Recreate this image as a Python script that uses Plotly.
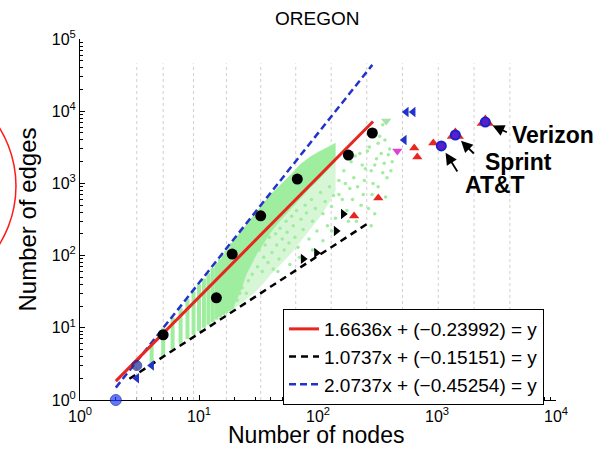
import math
import plotly.graph_objects as go

# ---------------- data ----------------
title_text = "OREGON"
x_title = "Number of nodes"
y_title = "Number of edges"

# fitted lines: log10(y) = slope*log10(x) + intercept
fit_labels = ["1.6636x + (\u22120.23992) = y",
              "1.0737x + (\u22120.15151) = y",
              "2.0737x + (\u22120.45254) = y"]
fit_slopes = [1.6636, 1.0737, 2.0737]
fit_intercepts = [-0.23992, -0.15151, -0.45254]
fit_x_start = [2, 2.6, 2]
fit_x_end = [290, 260, 286]

# binned averages (black dots)
mean_nodes = [5, 14, 19, 33, 67, 180, 286]
mean_edges = [8, 26, 105, 355, 1150, 2470, 4990]

# smallest graphs (blue dots)
small_nodes = [2, 3]
small_edges = [1, 3]

# green cloud: columns for small integer node counts
col_nodes = [4, 5, 6, 7, 8, 9, 10, 11, 12, 13, 14, 15, 16, 17, 18, 19]
col_lo = [3, 4, 5, 6, 7, 8, 9, 10, 11, 12, 13, 14, 15, 16, 17, 18]
col_hi = [6, 10, 14, 19, 25, 32, 40, 48, 57, 68, 79, 90, 103, 117, 131, 150]

# green cloud: dense band (upper..mid) and thinner region (mid..lower)
band_nodes = [19, 22, 25, 30, 35, 40, 50, 60, 70, 85, 100, 120, 140]
band_upper = [150, 205, 270, 390, 540, 700, 1000, 1350, 1800, 2300, 2700, 3200, 3600]
band_mid = [18, 30, 55, 100, 150, 210, 330, 460, 600, 850, 1100, 1500, 2000]
band_lower = [18, 21, 25, 32, 42, 55, 80, 110, 150, 230, 320, 500, 800]

# green cloud: sparse points
sparse_nodes = [21, 22, 23, 24, 25, 26, 27, 28, 29, 31, 32, 34, 35, 36, 38, 39,
                41, 42, 44, 45, 47, 48, 50, 52, 54, 55, 57, 60, 62, 64, 66, 68,
                72, 75, 78, 80, 84, 88, 90, 95, 98, 105, 110, 115, 120, 125, 130,
                135, 140, 150, 160, 165, 175, 185, 190, 200, 210, 225, 240, 250,
                270, 290, 300, 310, 330, 350, 350, 370, 380, 400, 420,
                150, 160, 170, 180, 195, 205, 215, 230, 235, 245, 260, 265, 280,
                285, 300, 320, 320, 340, 360, 365, 390, 410, 300, 280, 130, 110,
                90, 70, 58, 46]
sparse_edges = [24, 30, 36, 60, 30, 45, 80, 55, 100, 70, 120, 60, 95, 140, 80, 180,
                110, 65, 200, 140, 90, 240, 170, 120, 300, 210, 150, 350, 260, 180, 420, 130,
                320, 230, 500, 390, 170, 600, 300, 450, 220, 750, 380, 560, 260, 900, 480,
                680, 330, 1100, 600, 1500, 420, 850, 2000, 1200, 300, 2600, 700, 1600,
                3200, 1000, 5500, 2200, 4500, 1400, 6500, 650, 1200, 3000, 2000,
                700, 400, 1000, 300, 600, 2400, 900, 500, 1800, 1100, 2800, 450, 1500,
                700, 1800, 3600, 900, 2600, 1900, 4000, 2500, 1500, 380, 260, 220, 160,
                120, 95, 75, 60]

# triangle markers
blue_left_nodes = [3, 4, 531, 552, 631]
blue_left_edges = [2, 3, 3990, 9750, 9750]
black_right_nodes = [75, 97, 142, 163]
black_right_edges = [90, 109, 219, 377]
red_up_nodes = [201, 321, 644, 683, 931]
red_up_edges = [353, 628, 3090, 2320, 3630]
magenta_down_nodes = [464]
magenta_down_edges = [2810]
green_down_nodes = [374]
green_down_edges = [7310]

# carriers
carrier_names = ["AT&T", "Sprint", "Verizon"]
carrier_nodes = [1087, 1426, 2547]
carrier_edges = [3300, 4680, 7080]

# vertical dotted guide lines (bin edges)
grid_x = [3, 5, 9, 17, 33, 65, 129, 257, 513, 1025, 2049, 4097]
grid_span = [1, 46000]

x_tickvals = [1, 10, 100, 1000, 10000]
x_ticktext = ["10<sup>0</sup>", "10<sup>1</sup>", "10<sup>2</sup>", "10<sup>3</sup>", "10<sup>4</sup>"]
y_tickvals = [1, 10, 100, 1000, 10000, 100000]
y_ticktext = ["10<sup>0</sup>", "10<sup>1</sup>", "10<sup>2</sup>", "10<sup>3</sup>",
              "10<sup>4</sup>", "10<sup>5</sup>"]

# ---------------- figure ----------------
GREEN = "#9fee9f"
LIGHT_GREEN = "#d6f6d6"
RED = "#e6261f"
BLUE = "#2233cc"

fig = go.Figure()

# grid lines
gx, gy = [], []
for v in grid_x:
    gx += [v, v, None]
    gy += [grid_span[0], grid_span[1], None]
fig.add_trace(go.Scatter(x=gx, y=gy, mode="lines", showlegend=False, hoverinfo="skip",
                         line=dict(color="#cfcfcf", width=1, dash="dot")))

# thinner region of the cloud
fig.add_trace(go.Scatter(x=band_nodes + band_nodes[::-1], y=band_mid + band_lower[::-1],
                         mode="lines", fill="toself", fillcolor=LIGHT_GREEN, showlegend=False,
                         hoverinfo="skip", line=dict(color=LIGHT_GREEN, width=0.5)))

# green columns
cx, cy = [], []
for n, lo, hi in zip(col_nodes, col_lo, col_hi):
    cx += [n, n, None]
    cy += [lo, hi, None]
fig.add_trace(go.Scatter(x=cx, y=cy, mode="lines", showlegend=False, hoverinfo="skip",
                         line=dict(color=GREEN, width=4)))

# dense band
fig.add_trace(go.Scatter(x=band_nodes + band_nodes[::-1], y=band_upper + band_mid[::-1],
                         mode="lines", fill="toself", fillcolor=GREEN, showlegend=False,
                         hoverinfo="skip", line=dict(color=GREEN, width=0.5)))

# sparse points
fig.add_trace(go.Scatter(x=sparse_nodes, y=sparse_edges, mode="markers", showlegend=False,
                         marker=dict(color=GREEN, size=3.5)))

# fit lines (drawn black, blue, red; legend lists red, black, blue)
fit_colors = [RED, "black", BLUE]
fit_dash = ["solid", "7px,5px", "7px,4px"]
fit_width = [3, 2.5, 2.5]
for i in [1, 2, 0]:
    xs = [fit_x_start[i], fit_x_end[i]]
    ys = [10 ** (fit_slopes[i] * math.log10(v) + fit_intercepts[i]) for v in xs]
    fig.add_trace(go.Scatter(x=xs, y=ys, mode="lines", name=fit_labels[i], legendrank=i + 1,
                             line=dict(color=fit_colors[i], width=fit_width[i], dash=fit_dash[i])))

# black mean dots
fig.add_trace(go.Scatter(x=mean_nodes, y=mean_edges, mode="markers", showlegend=False,
                         marker=dict(color="black", size=11)))

# triangles
fig.add_trace(go.Scatter(x=blue_left_nodes, y=blue_left_edges, mode="markers", showlegend=False,
                         marker=dict(symbol="triangle-left", color=BLUE, size=9)))
fig.add_trace(go.Scatter(x=black_right_nodes, y=black_right_edges, mode="markers", showlegend=False,
                         marker=dict(symbol="triangle-right", color="black", size=9)))
fig.add_trace(go.Scatter(x=red_up_nodes, y=red_up_edges, mode="markers", showlegend=False,
                         marker=dict(symbol="triangle-up", color=RED, size=9)))
fig.add_trace(go.Scatter(x=magenta_down_nodes, y=magenta_down_edges, mode="markers", showlegend=False,
                         marker=dict(symbol="triangle-down", color="#e040d8", size=9)))
fig.add_trace(go.Scatter(x=green_down_nodes, y=green_down_edges, mode="markers", showlegend=False,
                         marker=dict(symbol="triangle-down", color="#a8e0a8", size=9)))

# small graphs
fig.add_trace(go.Scatter(x=small_nodes, y=small_edges, mode="markers", showlegend=False,
                         cliponaxis=False,
                         marker=dict(color=["#1f3cff", "#1c2a9a"], size=[11, 10],
                                     line=dict(color="#101a80", width=1))))

# carriers: red triangle under blue circle
fig.add_trace(go.Scatter(x=carrier_nodes[1:], y=carrier_edges[1:], mode="markers", showlegend=False,
                         marker=dict(symbol="triangle-up", color=RED, size=15)))
fig.add_trace(go.Scatter(x=carrier_nodes, y=carrier_edges, mode="markers", showlegend=False,
                         marker=dict(color="#5a1fc8", size=9, line=dict(color="#1a22d0", width=2))))

# carrier labels and arrows
label_shift = [(22, -39), (28, -27), (25, -13)]
arrow_off = [(17, 27), (20, 20), (23, 11)]
for name, n, e, (sx, sy), (ax, ay) in zip(carrier_names, carrier_nodes, carrier_edges,
                                          label_shift, arrow_off):
    fig.add_annotation(x=math.log10(n), y=math.log10(e),
                       text="", showarrow=True, ax=ax, ay=ay,
                       arrowhead=2, arrowsize=1.3, arrowwidth=1.8, arrowcolor="black", standoff=8)
    fig.add_annotation(x=math.log10(n), y=math.log10(e),
                       text="<b>" + name + "</b>", showarrow=False,
                       xanchor="left", yanchor="middle", xshift=sx, yshift=sy,
                       font=dict(size=23, color="black"))

# chart title
fig.add_annotation(text=title_text, xref="paper", yref="paper", x=0.4985, y=1.0,
                   xanchor="center", yanchor="middle", yshift=21, showarrow=False,
                   font=dict(size=19, color="black"))

# x-axis title (placed below the tick labels, kept inside the page)
fig.add_annotation(text=x_title, xref="paper", yref="paper", x=0.496, y=0.0,
                   xanchor="center", yanchor="bottom", yshift=-50, showarrow=False,
                   font=dict(size=23, color="black"))

# red circle at left edge
fig.add_shape(type="circle", xref="paper", yref="paper",
              x0=-0.601, x1=-0.1345, y0=0.2853, y1=0.900,
              line=dict(color="#ff1a1a", width=1.5))

fig.update_layout(
    width=600, height=451,
    margin=dict(l=80, r=44, t=39, b=51, autoexpand=False),
    plot_bgcolor="white", paper_bgcolor="white",
    font=dict(family="Liberation Sans, Arial, sans-serif", color="black"),
    legend=dict(x=0.4265, y=0.252, xanchor="left", yanchor="top",
                bgcolor="white", bordercolor="black", borderwidth=1,
                font=dict(size=19, color="black"), tracegroupgap=0),
    showlegend=True,
)

axis_common = dict(type="log", showline=True, linecolor="black", linewidth=1,
                   showgrid=False, zeroline=False, ticks="inside", ticklen=5,
                   tickcolor="black", tickfont=dict(size=16, color="black"),
                   layer="below traces", automargin=False)

minor_x = [m * d for d in [1, 10, 100, 1000] for m in range(2, 10)]
minor_y = [m * d for d in [1, 10, 100, 1000, 10000] for m in range(2, 10)]

fig.update_xaxes(range=[0, 4], tickvals=x_tickvals, ticktext=x_ticktext,
                 ticklabelstandoff=2,
                 minor=dict(tickvals=minor_x, ticks="inside", ticklen=3, tickcolor="black",
                            showgrid=False),
                 **axis_common)
fig.update_yaxes(range=[0, 5], tickvals=y_tickvals, ticktext=y_ticktext,
                 minor=dict(tickvals=minor_y, ticks="inside", ticklen=3, tickcolor="black",
                            showgrid=False),
                 title=dict(text=y_title, font=dict(size=24, color="black"), standoff=8),
                 **axis_common)

fig.write_html("out.html")
